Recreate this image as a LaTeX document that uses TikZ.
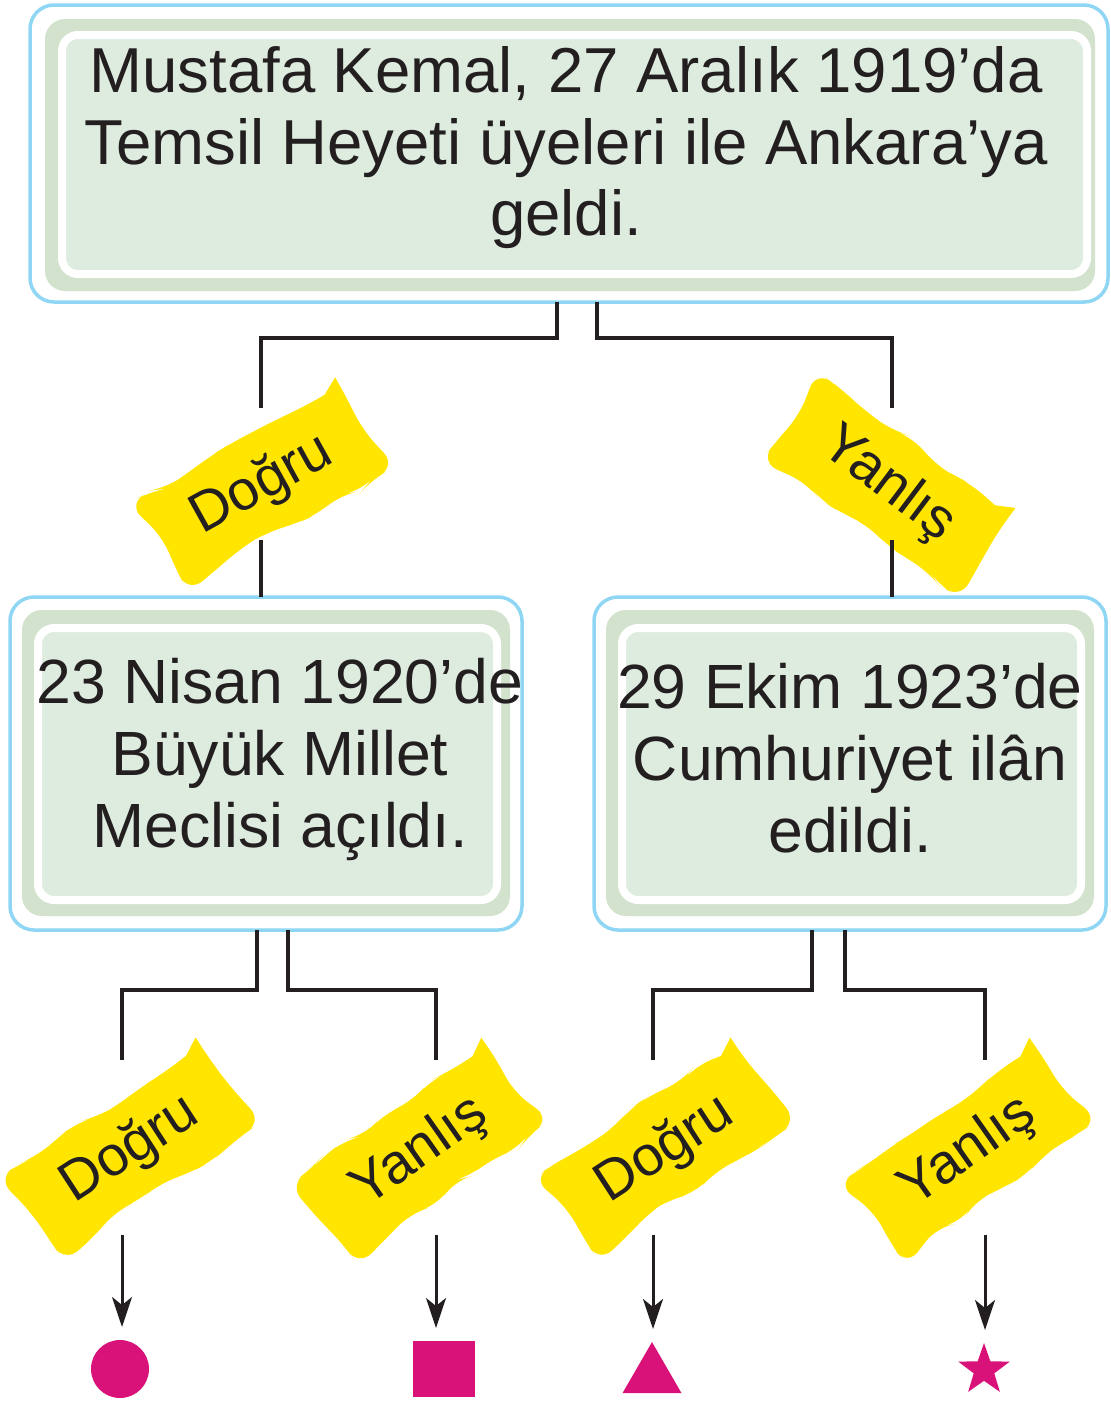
\documentclass[tikz,border=0pt]{standalone}
\usepackage{fontspec}
\setmainfont{Liberation Sans}
\usetikzlibrary{positioning,arrows.meta,shapes.geometric,decorations.pathmorphing}

\definecolor{skyline}{RGB}{143,214,244}
\definecolor{bandgreen}{RGB}{210,226,204}
\definecolor{boxgreen}{RGB}{222,236,224}
\definecolor{marker}{RGB}{255,229,0}
\definecolor{shapepink}{RGB}{217,18,122}
\definecolor{ink}{RGB}{35,31,32}

\tikzset{
  frame/.style={inner sep=0pt, outer sep=0pt},
  outerbox/.style={frame, draw=skyline, line width=3.5pt, fill=white, rounded corners=24pt},
  bandbox/.style={frame, fill=bandgreen, rounded corners=20pt},
  fillbox/.style={frame, fill=boxgreen, draw=white, line width=8pt, rounded corners=16pt},
  boxtext/.style={align=center, text=ink, font=\fontsize{63.5}{71.5}\selectfont},
  smalltext/.style={boxtext, font=\fontsize{62.5}{72}\selectfont},
  tag/.style={fill=marker, text=ink, font=\fontsize{56}{56}\selectfont,
    inner xsep=40pt, inner ysep=22pt, decorate,
    decoration={random steps, segment length=26pt, amplitude=6pt}, rounded corners=18pt},
  link/.style={ink, line width=3.5pt},
  pick/.style={ink, line width=3pt, -{Stealth[length=30pt,width=20pt,inset=8pt]}, shorten >=13pt},
  symbol/.style={fill=shapepink, inner sep=0pt, outer sep=0pt},
}

\begin{document}
\begin{tikzpicture}[x=1pt,y=-1pt]
\pgfmathsetseed{11}
\useasboundingbox (0,0) rectangle (1111,1403);

% top box
\node[outerbox, minimum width=1078pt, minimum height=297pt] (top) at (569,153.5) {};
\node[bandbox, minimum width=1050pt, minimum height=272pt] (topband) at (570,155) {};
\node[fillbox, minimum width=1025pt, minimum height=239pt] (topfill) at (574.5,154.5) {};
\node[boxtext] (toptext) at (566,148) {Mustafa Kemal, 27 Aralık 1919’da\\Temsil Heyeti üyeleri ile Ankara’ya\\geldi.};

% second row
\node[outerbox, minimum width=512pt, minimum height=333pt] (left) at (266,763.5) {};
\node[bandbox, minimum width=488pt, minimum height=306pt] (leftband) at (266,763) {};
\node[fillbox, minimum width=459pt, minimum height=272pt] (leftfill) at (267.5,764) {};
\node[smalltext] (lefttext) at (280,759) {23 Nisan 1920’de\\Büyük Millet\\Meclisi açıldı.};

\node[outerbox, minimum width=512pt, minimum height=333pt] (right) at (850,763.5) {};
\node[bandbox, minimum width=488pt, minimum height=306pt] (rightband) at (850,763) {};
\node[fillbox, minimum width=459pt, minimum height=272pt] (rightfill) at (851.5,764) {};
\node[smalltext] (righttext) at (850,758) {29 Ekim 1923’de\\Cumhuriyet ilân\\edildi.};

% labels
\node[tag, rotate=29] (dtop) at (262,485) {Doğru};
\node[tag, rotate=-37] (ytop) at (888,485) {Yanlış};
\node[tag, rotate=33] (d1) at (130,1150) {Doğru};
\node[tag, rotate=35] (y1) at (420,1152) {Yanlış};
\node[tag, rotate=33] (d2) at (665,1150) {Doğru};
\node[tag, rotate=35] (y2) at (968,1152) {Yanlış};

% line ends round the labels
\coordinate (dtopA) at (261,408);
\coordinate (dtopB) at (261,540);
\coordinate (ytopA) at (892,408);
\coordinate (ytopB) at (892,540);
\coordinate (d1A) at (122,1060);
\coordinate (d1B) at (122,1235);
\coordinate (y1A) at (436,1060);
\coordinate (y1B) at (436,1235);
\coordinate (d2A) at (653,1060);
\coordinate (d2B) at (653,1235);
\coordinate (y2A) at (985,1060);
\coordinate (y2B) at (985,1235);

\draw[link] ([xshift=-12pt]top.south) -- ++(0,36) -| (dtopA);
\draw[link] ([xshift=28pt]top.south) -- ++(0,36) -| (ytopA);
\draw[link] (dtopB) -- (dtopB |- left.north);
\draw[link] (ytopB) -- (ytopB |- right.north);

\draw[link] ([xshift=-9pt]left.south) -- ++(0,60) -| (d1A);
\draw[link] ([xshift=22pt]left.south) -- ++(0,60) -| (y1A);
\draw[link] ([xshift=-38pt]right.south) -- ++(0,60) -| (d2A);
\draw[link] ([xshift=-5pt]right.south) -- ++(0,60) -| (y2A);

% shapes
\node[symbol, circle, minimum size=58pt] (dot) at (120,1369) {};
\node[symbol, rectangle, minimum width=62pt, minimum height=56pt] (sq) at (444,1369) {};
\node[symbol, regular polygon, regular polygon sides=3, minimum size=68pt] (tri) at (652,1376) {};
\node[symbol, star, star points=5, star point ratio=2.5, minimum size=54pt] (st) at (984,1370) {};

\draw[pick] (d1B) -- (d1B |- dot.north);
\draw[pick] (y1B) -- (y1B |- sq.north);
\draw[pick] (d2B) -- (d2B |- tri.north);
\draw[pick] (y2B) -- (y2B |- st.north);
\end{tikzpicture}
\end{document}
